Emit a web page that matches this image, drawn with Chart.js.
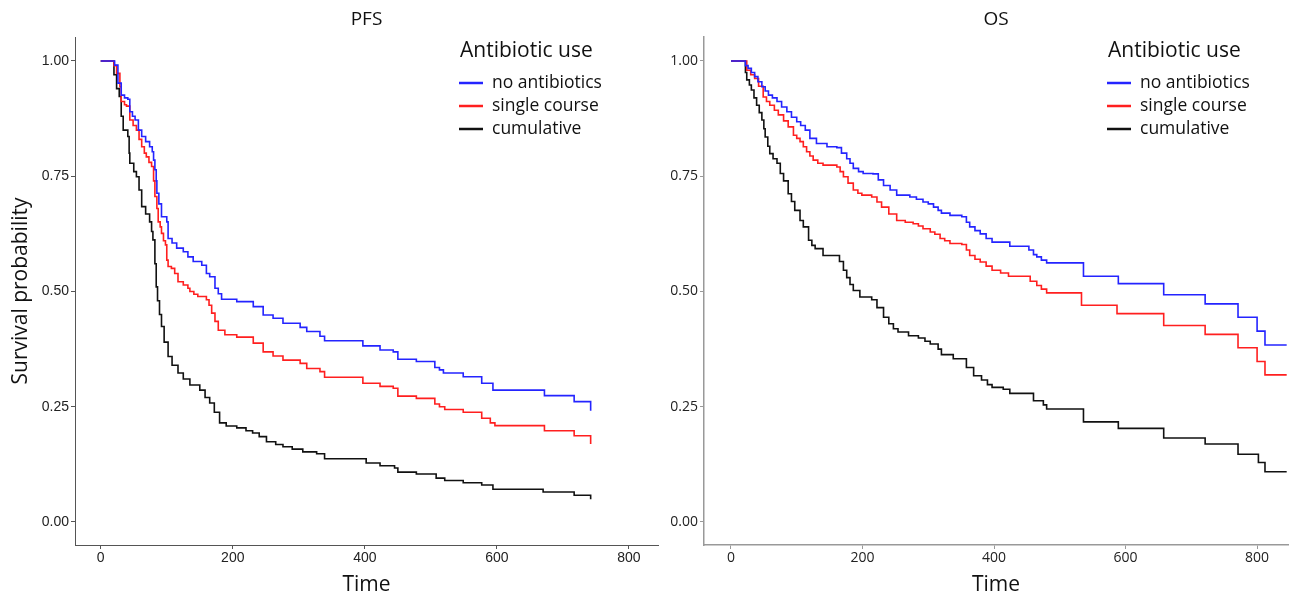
<!DOCTYPE html>
<html lang="en">
<head>
    <meta charset="UTF-8">
    <title>PFS / OS by antibiotic use</title>
    <script src="https://cdn.jsdelivr.net/npm/chart.js"></script>
</head>
<body style="margin: 0; background-color: white;">
    <div style="position: relative; width: 1291px; height: 599px; background: white;">
        <canvas id="pfsChart" width="660" height="599" style="position: absolute; left: 0; top: 0;"></canvas>
        <canvas id="osChart" width="631" height="599" style="position: absolute; left: 660px; top: 0;"></canvas>
    </div>

    <script>
        // Kaplan-Meier curves: [time, survival]
        const pfsNoAbx = [[0,1],[16,1],[21,0.991],[26,0.952],[31,0.926],[36,0.92],[41,0.917],[44,0.89],[48,0.88],[52,0.872],[57,0.85],[62,0.836],[68,0.825],[74,0.814],[78,0.803],[80,0.785],[82,0.764],[84,0.74],[85,0.713],[88,0.69],[92,0.662],[100,0.651],[102,0.615],[108,0.605],[115,0.594],[125,0.586],[132,0.575],[140,0.565],[153,0.557],[160,0.539],[165,0.532],[173,0.507],[178,0.495],[183,0.483],[206,0.478],[231,0.467],[246,0.449],[261,0.442],[276,0.431],[302,0.422],[312,0.413],[332,0.403],[339,0.393],[397,0.382],[423,0.373],[443,0.369],[450,0.353],[478,0.348],[506,0.335],[513,0.33],[519,0.323],[549,0.315],[577,0.301],[594,0.286],[672,0.274],[717,0.261],[742,0.241]];
        const pfsSingle = [[0,1],[16,1],[20,0.99],[24,0.973],[29,0.944],[31,0.912],[36,0.905],[39,0.902],[44,0.872],[49,0.86],[54,0.85],[58,0.83],[62,0.814],[66,0.8],[69,0.792],[73,0.78],[77,0.771],[80,0.74],[82,0.706],[85,0.68],[87,0.651],[90,0.64],[92,0.626],[95,0.61],[98,0.601],[100,0.568],[102,0.554],[107,0.55],[112,0.539],[117,0.521],[125,0.514],[132,0.507],[135,0.5],[141,0.494],[147,0.489],[160,0.482],[164,0.47],[168,0.453],[173,0.435],[178,0.416],[188,0.406],[206,0.401],[231,0.388],[246,0.369],[261,0.36],[276,0.351],[302,0.344],[312,0.333],[332,0.326],[339,0.314],[397,0.301],[423,0.294],[443,0.29],[450,0.273],[478,0.268],[506,0.256],[513,0.25],[521,0.244],[549,0.238],[577,0.225],[590,0.215],[597,0.209],[672,0.198],[717,0.187],[742,0.169]];
        const pfsCumul = [[0,1],[16,1],[20,0.97],[24,0.94],[28,0.923],[31,0.88],[34,0.85],[41,0.836],[43,0.8],[44,0.778],[50,0.76],[54,0.749],[58,0.72],[62,0.684],[68,0.668],[74,0.651],[77,0.63],[79,0.612],[82,0.56],[84,0.51],[86,0.48],[89,0.45],[92,0.424],[96,0.39],[102,0.359],[108,0.34],[117,0.323],[125,0.31],[135,0.297],[150,0.286],[158,0.27],[165,0.258],[172,0.238],[180,0.215],[190,0.208],[206,0.204],[220,0.198],[230,0.193],[240,0.185],[251,0.174],[265,0.168],[276,0.163],[290,0.158],[306,0.152],[327,0.148],[339,0.137],[402,0.128],[423,0.122],[445,0.117],[450,0.108],[478,0.104],[508,0.095],[521,0.09],[549,0.085],[577,0.08],[594,0.071],[670,0.065],[717,0.058],[742,0.049]];

        const osNoAbx = [[0,1],[19,1],[22,0.99],[26,0.984],[31,0.975],[36,0.966],[41,0.955],[47,0.944],[52,0.935],[57,0.926],[63,0.92],[70,0.912],[77,0.9],[85,0.89],[92,0.878],[100,0.868],[106,0.86],[113,0.85],[120,0.832],[130,0.821],[146,0.814],[161,0.812],[168,0.8],[176,0.788],[181,0.778],[186,0.767],[194,0.76],[201,0.756],[216,0.755],[224,0.742],[232,0.73],[242,0.72],[252,0.709],[272,0.705],[282,0.7],[292,0.694],[300,0.69],[308,0.683],[315,0.676],[320,0.67],[333,0.665],[351,0.662],[358,0.65],[363,0.64],[371,0.632],[379,0.625],[388,0.615],[397,0.607],[424,0.598],[453,0.59],[460,0.58],[465,0.575],[472,0.568],[480,0.562],[536,0.533],[589,0.517],[658,0.493],[721,0.473],[771,0.444],[800,0.414],[812,0.384],[845,0.384]];
        const osSingle = [[0,1],[19,1],[24,0.98],[30,0.97],[36,0.962],[42,0.945],[49,0.922],[54,0.912],[59,0.904],[66,0.893],[72,0.883],[80,0.87],[87,0.857],[95,0.839],[100,0.832],[105,0.825],[110,0.814],[115,0.803],[120,0.794],[125,0.785],[132,0.778],[140,0.774],[161,0.77],[166,0.76],[171,0.749],[178,0.735],[186,0.72],[193,0.713],[199,0.709],[214,0.705],[222,0.694],[229,0.683],[240,0.668],[252,0.654],[265,0.65],[277,0.647],[285,0.642],[292,0.636],[303,0.629],[310,0.624],[318,0.615],[325,0.61],[333,0.604],[351,0.602],[358,0.59],[363,0.578],[371,0.57],[379,0.564],[388,0.555],[397,0.546],[410,0.54],[422,0.533],[455,0.522],[465,0.513],[472,0.505],[480,0.497],[533,0.47],[587,0.452],[658,0.426],[721,0.407],[771,0.378],[800,0.348],[812,0.319],[845,0.319]];
        const osCumul = [[0,1],[19,1],[22,0.975],[24,0.959],[28,0.948],[31,0.937],[35,0.92],[39,0.904],[43,0.888],[47,0.872],[50,0.853],[52,0.835],[56,0.815],[59,0.799],[64,0.788],[70,0.778],[75,0.756],[80,0.74],[87,0.712],[92,0.695],[97,0.676],[105,0.654],[110,0.64],[118,0.611],[123,0.6],[128,0.593],[140,0.578],[165,0.565],[171,0.546],[176,0.53],[181,0.515],[186,0.502],[196,0.488],[214,0.482],[222,0.465],[232,0.444],[240,0.43],[247,0.419],[254,0.412],[270,0.404],[285,0.399],[295,0.392],[303,0.386],[315,0.375],[320,0.363],[338,0.354],[358,0.335],[369,0.317],[381,0.308],[390,0.298],[397,0.292],[414,0.288],[424,0.279],[460,0.263],[475,0.254],[480,0.245],[536,0.217],[589,0.203],[658,0.182],[721,0.169],[771,0.147],[802,0.129],[812,0.109],[845,0.109]];

        const groupNames = ['no antibiotics', 'single course', 'cumulative'];
        const groupColors = ['#2424ff', '#ff1f1f', '#111111'];
        const legendTitle = 'Antibiotic use';

        // titre + légende dessinés à la main dans la zone du graphique
        const decoPlugin = {
            id: 'deco',
            afterDraw(chart, args, opts) {
                const ctx = chart.ctx;
                const area = chart.chartArea;
                ctx.save();
                ctx.fillStyle = '#111';
                ctx.font = '19px "Open Sans"';
                ctx.textAlign = 'center';
                ctx.textBaseline = 'alphabetic';
                ctx.fillText(opts.title, (area.left + area.right) / 2, 25);

                ctx.textAlign = 'left';
                ctx.font = '21px "Open Sans"';
                ctx.fillText(legendTitle, opts.legendX + 1, 57);
                ctx.font = '17.5px "Open Sans"';
                ctx.textBaseline = 'middle';
                groupNames.forEach((name, i) => {
                    const y = 83 + i * 23;
                    ctx.strokeStyle = groupColors[i];
                    ctx.lineWidth = 2.5;
                    ctx.beginPath();
                    ctx.moveTo(opts.legendX, y);
                    ctx.lineTo(opts.legendX + 24, y);
                    ctx.stroke();
                    ctx.fillStyle = '#111';
                    ctx.fillText(name, opts.legendX + 33, y);
                });
                ctx.restore();
            }
        };

        function makeChart(id, cfg) {
            const datasets = cfg.series.map((s, i) => ({
                label: groupNames[i],
                data: s.map(([x, y]) => ({ x, y })),
                borderColor: groupColors[i],
                borderWidth: 1.6,
                stepped: true,
                pointRadius: 0,
                fill: false
            }));
            return new Chart(document.getElementById(id), {
                type: 'line',
                data: { datasets },
                plugins: [decoPlugin],
                options: {
                    responsive: false,
                    animation: false,
                    devicePixelRatio: 1,
                    layout: { padding: { top: 37, right: cfg.padRight, left: 0, bottom: 0 } },
                    plugins: {
                        legend: { display: false },
                        tooltip: { enabled: false },
                        deco: { title: cfg.title, legendX: cfg.legendX }
                    },
                    scales: {
                        x: {
                            type: 'linear',
                            min: cfg.xMin,
                            max: cfg.xMax,
                            afterFit: s => { s.height = 54; },
                            border: { display: true, color: cfg.axisColor, width: cfg.axisWidth },
                            grid: { drawOnChartArea: false, drawTicks: true, tickLength: 4, color: cfg.axisColor },
                            ticks: { stepSize: 200, includeBounds: false, maxRotation: 0, padding: 1, color: '#222', font: { family: cfg.tickFont, size: 14 } },
                            title: { display: true, text: 'Time', color: '#111', padding: { top: 0, bottom: 1 }, font: { family: 'Open Sans', size: 21 } }
                        },
                        y: {
                            min: -0.05,
                            max: 1.052,
                            afterFit: s => { s.width = cfg.yWidth; },
                            border: { display: true, color: cfg.axisColor, width: cfg.axisWidth },
                            grid: { drawOnChartArea: false, drawTicks: true, tickLength: 4, color: cfg.axisColor },
                            ticks: { stepSize: 0.25, includeBounds: false, padding: 2, color: '#222', font: { family: cfg.tickFont, size: 14 }, callback: v => v.toFixed(2) },
                            title: { display: cfg.yTitle, text: 'Survival probability', color: '#111', padding: { top: 8, bottom: 0 }, font: { family: 'Open Sans', size: 21 } }
                        }
                    }
                }
            });
        }

        makeChart('pfsChart', {
            series: [pfsNoAbx, pfsSingle, pfsCumul],
            title: 'PFS', legendX: 459,
            xMin: -39, xMax: 844, yWidth: 75, padRight: 2,
            axisColor: '#555', axisWidth: 1, tickFont: 'Liberation Sans', yTitle: true
        });

        makeChart('osChart', {
            series: [osNoAbx, osSingle, osCumul],
            title: 'OS', legendX: 1107 - 660,
            xMin: -41, xMax: 847, yWidth: 44, padRight: 3,
            axisColor: '#999', axisWidth: 1.5, tickFont: 'Open Sans', yTitle: false
        });
    </script>
</body>
</html>
